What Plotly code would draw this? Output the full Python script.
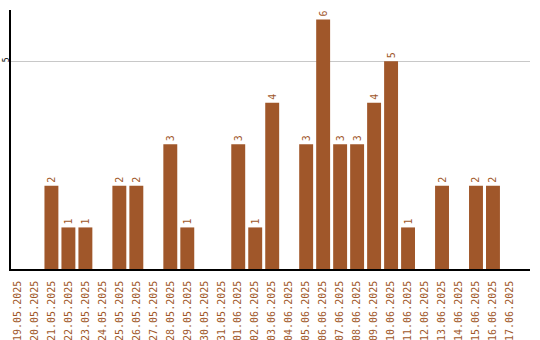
import plotly.graph_objects as go

dates = ["19.05.2025","20.05.2025","21.05.2025","22.05.2025","23.05.2025","24.05.2025",
         "25.05.2025","26.05.2025","27.05.2025","28.05.2025","29.05.2025","30.05.2025",
         "31.05.2025","01.06.2025","02.06.2025","03.06.2025","04.06.2025","05.06.2025",
         "06.06.2025","07.06.2025","08.06.2025","09.06.2025","10.06.2025","11.06.2025",
         "12.06.2025","13.06.2025","14.06.2025","15.06.2025","16.06.2025","17.06.2025"]
values = [0,0,2,1,1,0,2,2,0,3,1,0,0,3,1,4,0,3,6,3,3,4,5,1,0,2,0,2,2,0]
labels = [str(v) if v > 0 else "" for v in values]

color = "#A0572A"
fig = go.Figure(go.Bar(
    x=list(range(len(dates))), y=values, text=labels,
    textposition="outside", textangle=-90, cliponaxis=False,
    outsidetextfont=dict(color=color, size=10, family="DejaVu Sans Mono"),
    marker=dict(color=color, line=dict(width=0)),
))
fig.update_layout(
    width=540, height=340, margin=dict(l=11, r=10, t=10, b=71),
    paper_bgcolor="white", plot_bgcolor="white", bargap=0.18,
    showlegend=False,
    font=dict(family="DejaVu Sans Mono", size=10),
)
fig.update_xaxes(range=[-0.38, 30.18], tickmode="array",
                 tickvals=list(range(len(dates))), ticktext=dates,
                 tickangle=-90, tickfont=dict(color=color, size=10),
                 showline=True, linecolor="black", linewidth=1.5,
                 showgrid=False, ticks="", zeroline=False,
                 automargin=False, ticklabelstandoff=6)
fig.update_yaxes(range=[0, 6.23], tickvals=[5], ticktext=["5"], tickangle=-90,
                 tickfont=dict(color="black", size=8),
                 showline=True, linecolor="black", linewidth=1.5,
                 showgrid=True, gridcolor="#C8C8C8", gridwidth=1,
                 zeroline=False, ticks="", automargin=False, ticklabelstandoff=-3)
fig.write_html("out.html")
